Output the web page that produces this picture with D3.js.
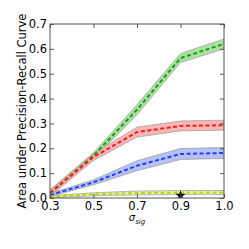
<!DOCTYPE html>
<html>
<head>
<meta charset="utf-8">
<script src="https://cdn.jsdelivr.net/npm/d3@7"></script>
<style>
  body { margin: 0; background: #fff; }
  text { font-family: "DejaVu Sans", sans-serif; }
</style>
</head>
<body>
<script>
var width = 249;
var height = 249;
var margin = {top: 24, left: 50, right: 25, bottom: 51};

// sigma_sig values (evenly spaced on the axis)
var sigmas = ["0.3", "0.5", "0.7", "0.9", "1.0"];
var yTicks = [0, 0.1, 0.2, 0.3, 0.4, 0.5, 0.6, 0.7];

// mean and spread of each curve
var greenMean = [0.02, 0.17, 0.355, 0.563, 0.62];
var greenSd   = [0.012, 0.012, 0.02, 0.018, 0.02];
var redMean   = [0.02, 0.165, 0.265, 0.29, 0.293];
var redSd     = [0.012, 0.014, 0.02, 0.02, 0.02];
var blueMean  = [0.012, 0.063, 0.13, 0.177, 0.181];
var blueSd    = [0.006, 0.01, 0.02, 0.022, 0.022];
var yellowMean = [0.005, 0.015, 0.02, 0.022, 0.022];
var yellowSd   = [0.004, 0.006, 0.008, 0.008, 0.008];

// marker
var starAt = {x: "0.9", y: 0.01};

var series = [
  {mean: greenMean, sd: greenSd, line: "#11a011", band: "#9ddc94"},
  {mean: blueMean, sd: blueSd, line: "#2040ff", band: "#aab6f2"},
  {mean: yellowMean, sd: yellowSd, line: "#b8d800", band: "#ecf0b4"},
  {mean: redMean, sd: redSd, line: "#ff1a1a", band: "#f6aaaa"}
];

var svg = d3.select("body")
  .append("svg")
  .attr("width", width)
  .attr("height", height);

var xScale = d3.scalePoint()
  .domain(sigmas)
  .range([margin.left, width - margin.right]);

var yScale = d3.scaleLinear()
  .domain([0, 0.7])
  .range([height - margin.bottom, margin.top]);

svg.append("clipPath").attr("id", "clip")
  .append("rect")
    .attr("x", margin.left)
    .attr("y", margin.top)
    .attr("width", width - margin.left - margin.right)
    .attr("height", height - margin.top - margin.bottom);

var plot = svg.append("g").attr("clip-path", "url(#clip)");

var area = d3.area()
  .x(function(d, i) { return xScale(sigmas[i]); })
  .y0(function(d) { return yScale(d[0] - d[1]); })
  .y1(function(d) { return yScale(d[0] + d[1]); });

var line = d3.line()
  .x(function(d, i) { return xScale(sigmas[i]); })
  .y(function(d) { return yScale(d); });

series.forEach(function(s) {
  plot.append("path")
    .datum(s.mean.map(function(m, i) { return [m, s.sd[i]]; }))
    .attr("d", area)
    .attr("fill", s.band)
    .attr("fill-opacity", 0.85)
    .attr("stroke", "#999")
    .attr("stroke-opacity", 0.7)
    .attr("stroke-width", 1);
});

series.forEach(function(s) {
  plot.append("path")
    .datum(s.mean)
    .attr("d", line)
    .attr("fill", "none")
    .attr("stroke", s.line)
    .attr("stroke-width", 2)
    .attr("stroke-dasharray", "4,2.5");
});

plot.append("path")
  .attr("d", d3.symbol().type(d3.symbolStar).size(32)())
  .attr("transform", `translate(${xScale(starAt.x)},${yScale(starAt.y)})`)
  .attr("fill", "black");

// axes, ticks pointing inward on all four sides
var fmt = d3.format(".1f");
var axisStyle = function(g) {
  g.select(".domain").remove();
  g.selectAll("line").attr("stroke", "#555");
  g.selectAll("text").attr("font-size", "11.5px").attr("fill", "#000")
    .attr("font-family", "DejaVu Sans, sans-serif");
};

svg.append("g")
  .attr("transform", `translate(${margin.left},0)`)
  .call(d3.axisLeft(yScale).tickValues(yTicks).tickFormat(fmt).tickSizeInner(-4).tickSizeOuter(0).tickPadding(3))
  .call(axisStyle);

svg.append("g")
  .attr("transform", `translate(${width - margin.right},0)`)
  .call(d3.axisRight(yScale).tickValues(yTicks).tickFormat("").tickSizeInner(-4).tickSizeOuter(0))
  .call(axisStyle);

svg.append("g")
  .attr("transform", `translate(0,${height - margin.bottom})`)
  .call(d3.axisBottom(xScale).tickSizeInner(-4).tickSizeOuter(0).tickPadding(4))
  .call(axisStyle);

svg.append("g")
  .attr("transform", `translate(0,${margin.top})`)
  .call(d3.axisTop(xScale).tickFormat("").tickSizeInner(-4).tickSizeOuter(0))
  .call(axisStyle);

svg.append("rect")
  .attr("x", margin.left)
  .attr("y", margin.top)
  .attr("width", width - margin.left - margin.right)
  .attr("height", height - margin.top - margin.bottom)
  .attr("fill", "none")
  .attr("stroke", "#555")
  .attr("stroke-width", 1);

// labels
svg.append("text")
  .attr("transform", `translate(26,${(margin.top + height - margin.bottom) / 2}) rotate(-90)`)
  .attr("text-anchor", "middle")
  .attr("font-size", "11.5px")
  .text("Area under Precision-Recall Curve");

var xl = svg.append("text")
  .attr("x", (margin.left + width - margin.right) / 2)
  .attr("y", 221)
  .attr("text-anchor", "middle")
  .attr("font-family", "DejaVu Serif, serif")
  .attr("font-style", "italic");
xl.append("tspan").attr("font-size", "10px").text("σ");
xl.append("tspan").attr("font-size", "7px").attr("dy", 3).text("sig");
</script>
</body>
</html>
